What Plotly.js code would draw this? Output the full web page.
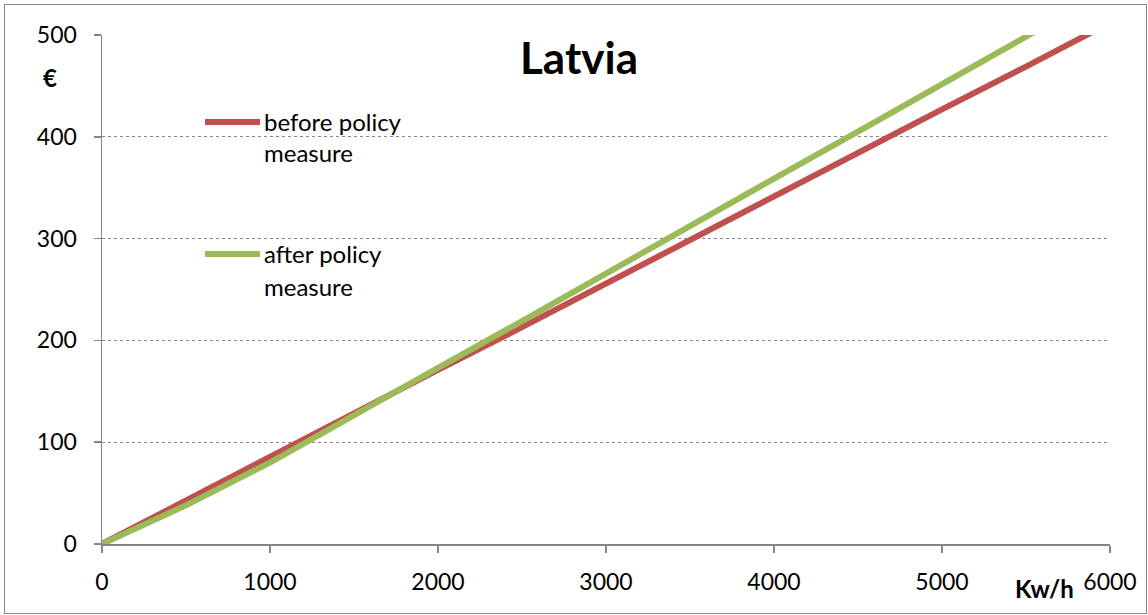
<!DOCTYPE html>
<html>
<head>
<meta charset="utf-8">
<script src="https://cdn.plot.ly/plotly-3.0.1.min.js"></script>
<style>
  html, body { margin: 0; padding: 0; background: #fff; }
  #wrap { position: relative; width: 1148px; height: 615px; }
  #chart { position: absolute; left: 0; top: 0; width: 1148px; height: 615px; }
  #frame { position: absolute; left: 4px; top: 4px; width: 1141px; height: 608px;
           border: 1.5px solid #868686; pointer-events: none; }
</style>
</head>
<body>
<div id="wrap">
  <div id="chart"></div>
  <div id="frame"></div>
</div>
<script>
// Data
const kwh = [0, 500, 1000, 1500, 2000, 2500, 3000, 3500, 4000, 4500, 5000, 5500, 6000];
const beforePolicy = [0, 43, 85, 128, 171, 213, 256, 299, 341, 384, 427, 469, 512];
const afterPolicy  = [0, 38, 80, 127, 173, 219, 266, 312, 359, 405, 452, 499, 545];
const seriesNames = ["before policy", "after policy"];
const xTicks = [0, 1000, 2000, 3000, 4000, 5000, 6000];
const yTicks = [0, 100, 200, 300, 400, 500];

const FONT = "Lato, 'Open Sans', sans-serif";
const RED = "#C0504D", GREEN = "#9BBB59";

// plot-area geometry (pixels) used only to place legend/labels
const L = 102, T = 35, R = 1110, B = 544;
const px = x => (x - L) / (R - L);
const py = y => (B - y) / (B - T);

const traces = [
  { x: kwh, y: beforePolicy, name: seriesNames[0], type: "scatter", mode: "lines",
    line: { color: RED, width: 6 }, showlegend: false, hoverinfo: "skip" },
  { x: kwh, y: afterPolicy, name: seriesNames[1], type: "scatter", mode: "lines",
    line: { color: GREEN, width: 6 }, showlegend: false, hoverinfo: "skip" }
];

const annFont = { family: FONT, size: 24, color: "#000" };
const annotations = [
  { text: "<b>Latvia</b>", xref: "paper", yref: "paper", x: px(579), y: py(57),
    xanchor: "center", yanchor: "middle", showarrow: false,
    font: { family: FONT, size: 44, color: "#000" } },
  { text: "<b>€</b>", xref: "paper", yref: "paper", x: px(50), y: py(77),
    xanchor: "center", yanchor: "middle", showarrow: false,
    font: { family: FONT, size: 24, color: "#000" } },
  { text: "<b>Kw/h</b>", xref: "paper", yref: "paper", x: px(1044), y: py(588),
    xanchor: "center", yanchor: "middle", showarrow: false,
    font: { family: FONT, size: 24, color: "#000" } },
  { text: "before policy", xref: "paper", yref: "paper", x: px(262), y: py(121),
    xanchor: "left", yanchor: "middle", showarrow: false, font: annFont },
  { text: "measure", xref: "paper", yref: "paper", x: px(262), y: py(152),
    xanchor: "left", yanchor: "middle", showarrow: false, font: annFont },
  { text: "after policy", xref: "paper", yref: "paper", x: px(262), y: py(254),
    xanchor: "left", yanchor: "middle", showarrow: false, font: annFont },
  { text: "measure", xref: "paper", yref: "paper", x: px(262), y: py(286),
    xanchor: "left", yanchor: "middle", showarrow: false, font: annFont }
];

const shapes = [
  { type: "line", xref: "paper", yref: "paper", x0: px(205), x1: px(260), y0: py(122), y1: py(122),
    line: { color: RED, width: 6 } },
  { type: "line", xref: "paper", yref: "paper", x0: px(205), x1: px(260), y0: py(254), y1: py(254),
    line: { color: GREEN, width: 6 } }
];

const layout = {
  width: 1148, height: 615,
  margin: { l: L, r: 1148 - R, t: T, b: 615 - B, pad: 0 },
  paper_bgcolor: "#fff", plot_bgcolor: "#fff",
  font: { family: FONT, size: 23, color: "#000" },
  showlegend: false,
  xaxis: {
    range: [0, 6000], tickvals: xTicks, ticktext: xTicks.map(String),
    showgrid: false, zeroline: false,
    showline: true, linecolor: "#868686", linewidth: 1.5,
    ticks: "outside", ticklen: 7, tickcolor: "#868686", tickwidth: 1.5,
    ticklabelstandoff: 10,
    tickfont: { family: FONT, size: 23, color: "#000" }
  },
  yaxis: {
    range: [0, 500], tickvals: yTicks, ticktext: yTicks.map(String),
    showgrid: true, gridcolor: "#868686", gridwidth: 1.2, griddash: "dot",
    zeroline: false,
    showline: true, linecolor: "#868686", linewidth: 1.5,
    ticks: "outside", ticklen: 7, tickcolor: "#868686", tickwidth: 1.5,
    ticklabelstandoff: 12,
    tickfont: { family: FONT, size: 23, color: "#000" }
  },
  annotations: annotations,
  shapes: shapes
};

Plotly.newPlot("chart", traces, layout, { displayModeBar: false, staticPlot: true });
</script>
</body>
</html>
